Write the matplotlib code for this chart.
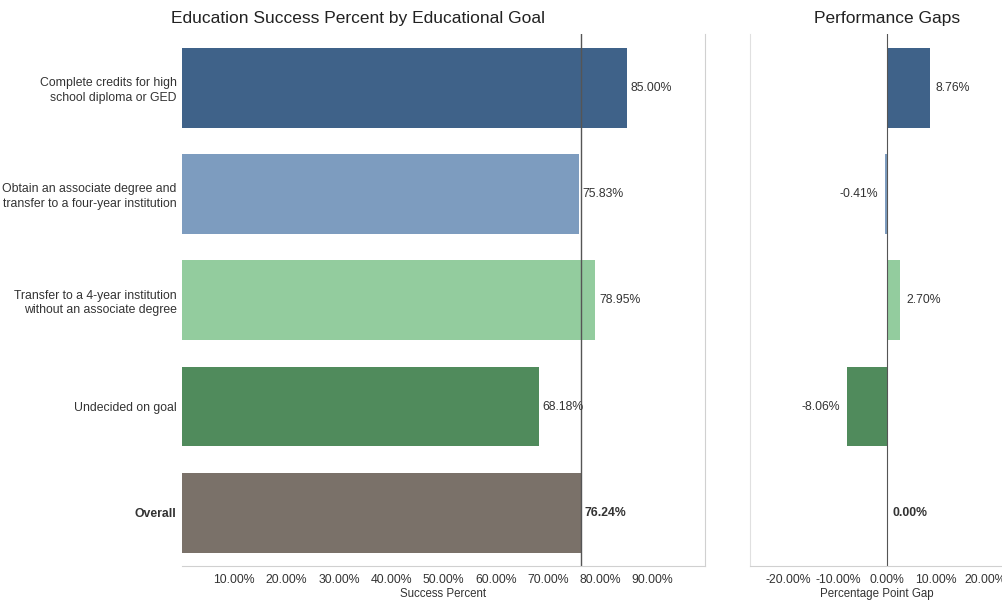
import numpy as np
import matplotlib
matplotlib.use("Agg")
import matplotlib.pyplot as plt

# Data
goals = [
    "Complete credits for high\nschool diploma or GED",
    "Obtain an associate degree and\ntransfer to a four-year institution",
    "Transfer to a 4-year institution\nwithout an associate degree",
    "Undecided on goal",
    "Overall",
]
success_pct = [85.00, 75.83, 78.95, 68.18, 76.24]
gap_pct = [8.76, -0.41, 2.70, -8.06, 0.00]
overall_pct = 76.24
bar_colors = ["#3f6289", "#7d9cbf", "#93cc9e", "#508b5c", "#7a7169"]

success_ticks = [10, 20, 30, 40, 50, 60, 70, 80, 90]
gap_ticks = [-20, -10, 0, 10, 20]

plt.rcParams["font.family"] = ["Liberation Sans", "DejaVu Sans"]
fs = 8.8

fig = plt.figure(figsize=(10.03, 6.03), dpi=100)
ax1 = fig.add_axes([0.1815, 0.0614, 0.5214, 0.8814])
ax2 = fig.add_axes([0.7478, 0.0614, 0.2522, 0.8814])

y = np.arange(len(goals))

# Left panel: success percent
ax1.barh(y, success_pct, height=0.75, color=bar_colors)
ax1.axvline(overall_pct, color="#555555", linewidth=1)
for i, v in enumerate(success_pct):
    ax1.annotate(f"{v:.2f}%", (v, i), xytext=(3, 0), textcoords="offset points",
                 va="center", ha="left", fontsize=fs, color="#333333",
                 fontweight="bold" if goals[i] == "Overall" else "normal")
ax1.set_xlim(0, 100)
ax1.set_ylim(len(goals) - 0.5, -0.5)
ax1.set_xticks(success_ticks)
ax1.set_xticklabels([f"{t:.2f}%" for t in success_ticks])
ax1.set_yticks(y)
ax1.set_yticklabels(goals, linespacing=1.3)
for lbl in ax1.get_yticklabels():
    if lbl.get_text() == "Overall":
        lbl.set_fontweight("bold")
ax1.set_xlabel("Success Percent", fontsize=fs - 0.5, color="#333333", labelpad=1)

# Right panel: performance gaps
ax2.barh(y, gap_pct, height=0.75, color=bar_colors)
ax2.axvline(0, color="#555555", linewidth=0.8)
for i, v in enumerate(gap_pct):
    if v < 0:
        off, ha = -5, "right"
    else:
        off, ha = 4, "left"
    ax2.annotate(f"{v:.2f}%", (v, i), xytext=(off, 0), textcoords="offset points",
                 va="center", ha=ha, fontsize=fs, color="#333333",
                 fontweight="bold" if goals[i] == "Overall" else "normal")
ax2.set_xlim(-27.8, 23.5)
ax2.set_ylim(len(goals) - 0.5, -0.5)
ax2.set_xticks(gap_ticks)
ax2.set_xticklabels([f"{t:.2f}%" for t in gap_ticks])
ax2.set_yticks([])
ax2.set_xlabel("Percentage Point Gap", fontsize=fs - 0.5, color="#333333", labelpad=1)

for ax in (ax1, ax2):
    ax.tick_params(axis="both", length=0, labelsize=fs, colors="#333333")
    ax.tick_params(axis="x", pad=6)
    ax.tick_params(axis="y", pad=4)
    for s in ax.spines.values():
        s.set_visible(False)
    ax.spines["bottom"].set_visible(True)
    ax.spines["bottom"].set_color("#d0d0d0")

ax1.spines["right"].set_visible(True)
ax1.spines["right"].set_color("#d0d0d0")
ax2.spines["left"].set_visible(True)
ax2.spines["left"].set_color("#e0e0e0")

fig.text(358 / 1003, 1 - 18 / 603, "Education Success Percent by Educational Goal",
         ha="center", va="center", fontsize=12.5, color="#222222")
fig.text(887 / 1003, 1 - 18 / 603, "Performance Gaps",
         ha="center", va="center", fontsize=12.5, color="#222222")

fig.savefig("out.png", dpi=100, facecolor="white")
